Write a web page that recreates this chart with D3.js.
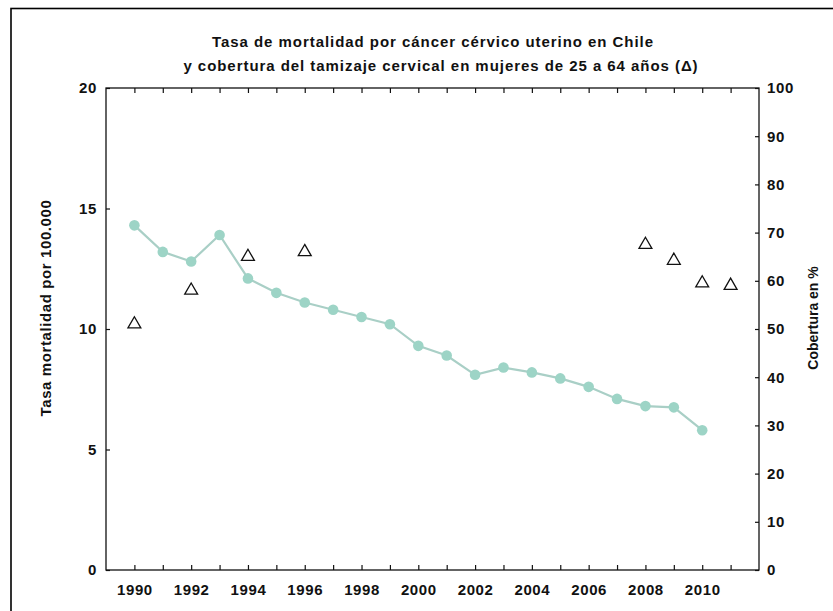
<!DOCTYPE html>
<html>
<head>
<meta charset="utf-8">
<script src="https://cdn.jsdelivr.net/npm/d3@7"></script>
<style>
  html, body { margin: 0; padding: 0; background: #fff; }
  svg { display: block; }
  text { font-family: "Liberation Sans", Arial, sans-serif; font-weight: bold; fill: #111; }
</style>
</head>
<body>
<svg id="chart" width="833" height="611"></svg>
<script>
// ---- data ----
const mortYears = [1990,1991,1992,1993,1994,1995,1996,1997,1998,1999,2000,2001,2002,2003,2004,2005,2006,2007,2008,2009,2010];
const mortRate  = [14.3,13.2,12.8,13.9,12.1,11.5,11.1,10.8,10.5,10.2,9.3,8.9,8.1,8.4,8.2,7.95,7.6,7.1,6.8,6.75,5.8];
const covYears  = [1990,1992,1994,1996,2008,2009,2010,2011];
const covPct    = [51,58,65,66,67.5,64.2,59.5,59];
const leftTicks  = [0,5,10,15,20];
const rightTicks = [0,10,20,30,40,50,60,70,80,90,100];
const xLabelYears = [1990,1992,1994,1996,1998,2000,2002,2004,2006,2008,2010];
const xTickYears  = d3.range(1990, 2012);
const titleLines = ["Tasa de mortalidad por cáncer cérvico uterino en Chile",
                    "y cobertura del tamizaje cervical en mujeres de 25 a 64 años (\u0394)"];
const leftTitle = "Tasa mortalidad por 100.000";
const rightTitle = "Cobertura en %";

const svg = d3.select("#chart");
const L = 106, R = 759, T = 88, B = 570;

// outer frame
svg.append("rect").attr("x", 11).attr("y", 8.5).attr("width", 900).attr("height", 700)
  .attr("fill", "none").attr("stroke", "#000").attr("stroke-width", 1.6);

const x = d3.scaleLinear().domain([1989, 2012]).range([L, R]);
const yL = d3.scaleLinear().domain([0, 20]).range([B, T]);
const yR = d3.scaleLinear().domain([0, 100]).range([B, T]);

// plot box
svg.append("rect").attr("x", L).attr("y", T).attr("width", R - L).attr("height", B - T)
  .attr("fill", "none").attr("stroke", "#111").attr("stroke-width", 1.3);

// axes
const gL = svg.append("g").attr("transform", `translate(${L},0)`)
  .call(d3.axisLeft(yL).tickValues(leftTicks).tickSizeInner(-4).tickSizeOuter(0).tickPadding(9));
const gR = svg.append("g").attr("transform", `translate(${R},0)`)
  .call(d3.axisRight(yR).tickValues(rightTicks).tickSizeInner(-4).tickSizeOuter(0).tickPadding(8));
const gB = svg.append("g").attr("transform", `translate(0,${B})`)
  .call(d3.axisBottom(x).tickValues(xTickYears).tickSizeInner(-5).tickSizeOuter(0).tickPadding(14)
    .tickFormat(d => xLabelYears.includes(d) ? d : ""));
const gT = svg.append("g").attr("transform", `translate(0,${T})`)
  .call(d3.axisTop(x).tickValues(xTickYears).tickSizeInner(-5).tickSizeOuter(0).tickFormat(""));
[gL, gR, gB, gT].forEach(g => {
  g.select(".domain").remove();
  g.selectAll(".tick line").attr("stroke", "#111").attr("stroke-width", 1.2);
  g.selectAll("text").style("font-family", '"Liberation Sans", Arial, sans-serif')
    .style("font-weight", "bold").style("font-size", "15px").style("letter-spacing", "0.6px")
    .attr("fill", "#111");
});

// line + circles
const line = d3.line().x((d, i) => x(mortYears[i])).y(d => yL(d));
svg.append("path").datum(mortRate).attr("d", line)
  .attr("fill", "none").attr("stroke", "#a9cfc6").attr("stroke-width", 2.2);
svg.append("g").selectAll("circle").data(mortRate).join("circle")
  .attr("cx", (d, i) => x(mortYears[i])).attr("cy", d => yL(d)).attr("r", 5.3)
  .attr("fill", "#9dd4c6");

// triangles
const tri = d3.symbol().type(d3.symbolTriangle).size(72);
svg.append("g").selectAll("path").data(covPct).join("path")
  .attr("d", tri)
  .attr("transform", (d, i) => `translate(${x(covYears[i])},${yR(d)})`)
  .attr("fill", "#fff").attr("stroke", "#111").attr("stroke-width", 1.3);

// titles
const titleX = [433, 441];
svg.append("g").selectAll("text").data(titleLines).join("text")
  .attr("x", (d, i) => titleX[i]).attr("y", (d, i) => 47 + i * 24).attr("text-anchor", "middle")
  .style("font-size", "15px").style("letter-spacing", "0.95px").text(d => d);

svg.append("text").attr("transform", `translate(51,308) rotate(-90)`)
  .attr("text-anchor", "middle").style("font-size", "15px").style("letter-spacing", "0.6px").text(leftTitle);
svg.append("text").attr("transform", `translate(818,318) rotate(-90)`)
  .attr("text-anchor", "middle").style("font-size", "14px").text(rightTitle);
</script>
</body>
</html>
